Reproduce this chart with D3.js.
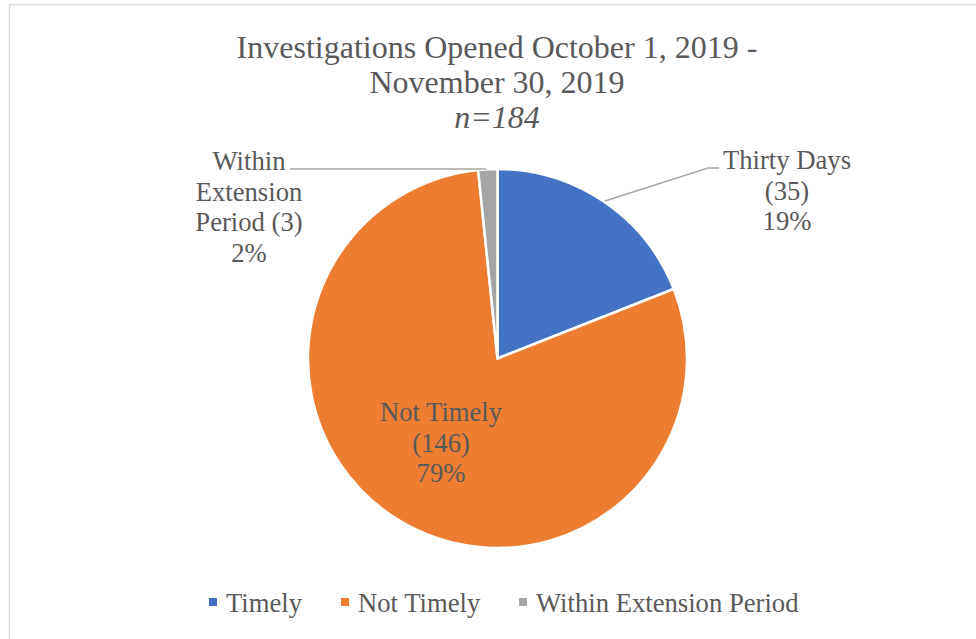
<!DOCTYPE html>
<html>
<head>
<meta charset="utf-8">
<script src="https://cdn.jsdelivr.net/npm/d3@7"></script>
<style>
  html, body { margin: 0; padding: 0; background: #ffffff; }
  svg { display: block; }
</style>
</head>
<body>
<svg id="chart" width="976" height="639"></svg>
<script>
const categories = ["Timely", "Not Timely", "Within Extension Period"];
const values = [35, 146, 3];
const colors = ["#4472C4", "#ED7D31", "#A5A5A5"];
const labelLines = [
  ["Thirty Days", "(35)", "19%"],
  ["Not Timely", "(146)", "79%"],
  ["Within", "Extension", "Period (3)", "2%"]
];
const titleLines = ["Investigations Opened October 1, 2019 -", "November 30, 2019"];
const subtitle = "n=184";

const FONT = '"Liberation Serif"';
const TEXT_COLOR = "#595959";

const svg = d3.select("#chart");

// chart border
svg.append("rect")
  .attr("x", 9.5).attr("y", 4.5)
  .attr("width", 1000).attr("height", 700)
  .attr("fill", "none").attr("stroke", "#d9d9d9").attr("stroke-width", 1.5);

// title
const title = svg.append("text")
  .attr("text-anchor", "middle").attr("font-size", 32)
  .attr("font-family", FONT).attr("fill", TEXT_COLOR);
titleLines.forEach((t, i) => {
  title.append("tspan").attr("x", 497).attr("y", 58 + i * 35).text(t);
});
title.append("tspan").attr("x", 497).attr("y", 128).attr("font-style", "italic").text(subtitle);

// pie
const cx = 497.5, cy = 358.5, r = 189.5;
const pie = d3.pie().sort(null).value(d => d)(values);
const arc = d3.arc().innerRadius(0).outerRadius(r);
const g = svg.append("g").attr("transform", `translate(${cx},${cy})`);
g.selectAll("path.slice").data(pie).enter().append("path")
  .attr("class", "slice")
  .attr("d", arc)
  .attr("fill", (d, i) => colors[i])
  .attr("stroke", "#ffffff")
  .attr("stroke-width", 2.5)
  .attr("stroke-linejoin", "round");

// leader lines
const leaders = [
  [[605, 201], [708, 168], [719, 168]],
  null,
  [[290, 169], [486, 169]]
];
leaders.forEach(pts => {
  if (!pts) return;
  svg.append("path")
    .attr("d", d3.line()(pts))
    .attr("fill", "none").attr("stroke", "#a6a6a6").attr("stroke-width", 1.5);
});

// data labels
const labelPos = [
  { x: 787, y: 169 },
  { x: 441, y: 421 },
  { x: 249, y: 170 }
];
labelLines.forEach((lines, i) => {
  const t = svg.append("text").attr("text-anchor", "middle").attr("font-size", 26.67)
    .attr("font-family", FONT).attr("fill", TEXT_COLOR);
  lines.forEach((ln, j) => {
    t.append("tspan").attr("x", labelPos[i].x).attr("y", labelPos[i].y + j * 30.5).text(ln);
  });
});

// legend
const legend = svg.append("g");
const legendX = [209, 341, 519];
categories.forEach((c, i) => {
  legend.append("rect")
    .attr("x", legendX[i]).attr("y", 598).attr("width", 8).attr("height", 8)
    .attr("fill", colors[i]);
  legend.append("text")
    .attr("x", legendX[i] + 17).attr("y", 612)
    .attr("font-size", 26.67)
    .attr("font-family", FONT).attr("fill", TEXT_COLOR)
    .text(c);
});
</script>
</body>
</html>
